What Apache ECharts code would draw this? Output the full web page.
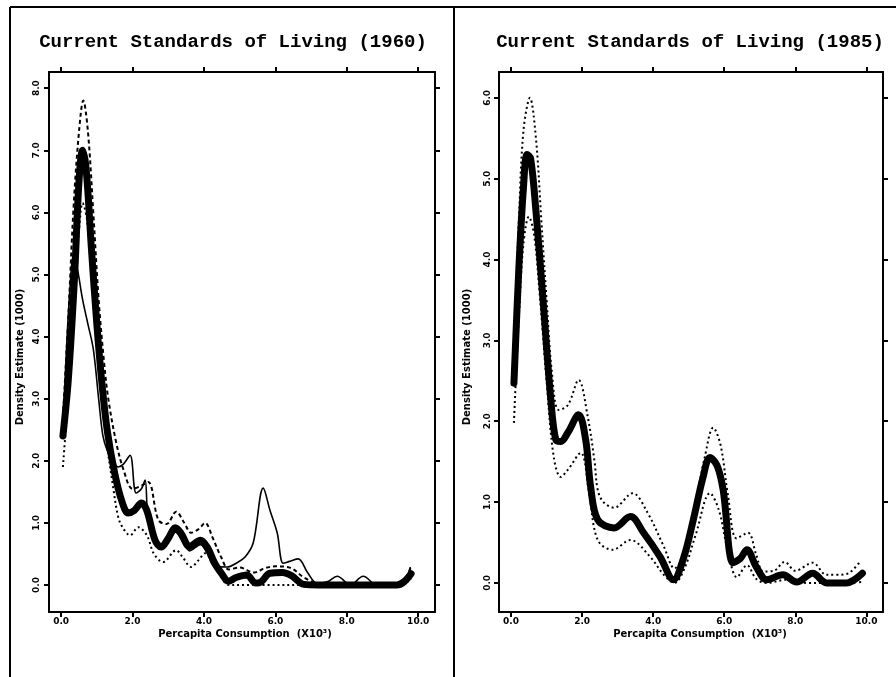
<!DOCTYPE html>
<html>
<head>
<meta charset="utf-8">
<script src="https://cdn.jsdelivr.net/npm/echarts@6/dist/echarts.min.js"></script>
<style>
html,body{margin:0;padding:0;background:#fff;}
#chart{width:896px;height:677px;}
</style>
</head>
<body>
<div id="chart"></div>
<script>
// ---------- data ----------
const titles = ['Current Standards of Living (1960)', 'Current Standards of Living (1985)'];
const xTickValues = [0, 2, 4, 6, 8, 10];
const yTicks1960 = [0, 1, 2, 3, 4, 5, 6, 7, 8];
const yTicks1985 = [0, 1, 2, 3, 4, 5, 6];
const xAxisTitle = 'Percapita Consumption  (X10³)';
const yAxisTitle = 'Density Estimate (1000)';

// 1960 panel
const main1960X = [0.05,0.2,0.37,0.5,0.6,0.7,0.85,1.0,1.15,1.3,1.5,1.7,1.88,2.05,2.25,2.4,2.63,2.8,3.0,3.2,3.35,3.6,3.9,4.1,4.3,4.5,4.68,4.9,5.2,5.45,5.6,5.85,6.2,6.45,6.8,7.2,8.0,9.0,9.4,9.6,9.8];
const main1960Y = [2.4,3.3,4.9,6.5,7.0,6.7,5.4,4.2,3.2,2.45,1.8,1.35,1.16,1.2,1.32,1.2,0.72,0.61,0.75,0.92,0.84,0.62,0.72,0.6,0.35,0.18,0.06,0.12,0.16,0.03,0.05,0.19,0.2,0.15,0.01,0,0,0,0,0.05,0.18];
const upper1960X = [0.05,0.2,0.35,0.5,0.62,0.75,0.9,1.05,1.2,1.32,1.54,1.75,2.0,2.25,2.44,2.72,2.95,3.22,3.45,3.64,3.85,4.03,4.25,4.48,4.7,5.0,5.4,5.7,6.0,6.4,6.8,7.1,7.5,8.5,9.5,9.8];
const upper1960Y = [2.7,4.3,6.1,7.3,7.8,7.3,6.0,4.6,3.6,3.0,2.3,1.85,1.55,1.6,1.66,1.05,0.98,1.18,1.0,0.84,0.9,1.0,0.75,0.45,0.25,0.28,0.2,0.27,0.3,0.28,0.12,0.04,0,0,0.02,0.3];
const lower1960X = [0.05,0.2,0.35,0.5,0.6,0.72,0.85,1.0,1.15,1.3,1.45,1.6,1.75,1.93,2.16,2.4,2.6,2.86,3.22,3.4,3.64,3.85,4.03,4.25,4.48,4.7,5.5,7.0,9.5,9.8];
const lower1960Y = [1.9,3.1,4.6,5.7,6.15,5.9,5.0,3.9,3.0,2.2,1.6,1.09,0.9,0.8,0.93,0.8,0.5,0.37,0.56,0.45,0.29,0.4,0.51,0.35,0.13,0,0,0,0,0.1];
const alt1960X = [0.05,0.15,0.25,0.34,0.45,0.6,0.75,0.9,1.05,1.17,1.3,1.45,1.6,1.75,1.93,2.1,2.25,2.35,2.44,2.6,2.8,3.0,3.2,3.4,3.6,3.9,4.1,4.3,4.65,4.9,5.15,5.38,5.66,5.85,6.05,6.22,6.4,6.64,6.9,7.17,7.45,7.73,8.1,8.46,8.85,9.5,9.78];
const alt1960Y = [2.5,3.8,4.8,5.3,5.1,4.6,4.2,3.8,3.0,2.4,2.15,2.0,1.9,1.95,2.09,1.48,1.55,1.69,1.0,0.75,0.58,0.7,0.85,0.7,0.55,0.65,0.5,0.3,0.29,0.35,0.45,0.68,1.56,1.2,0.84,0.35,0.38,0.42,0.2,0.03,0.05,0.14,0,0.14,0,0,0.29];

// 1985 panel
const main1985X = [0.08,0.22,0.35,0.45,0.55,0.7,0.9,1.12,1.26,1.4,1.6,1.9,2.1,2.24,2.44,2.9,3.36,3.73,4.2,4.57,4.85,5.13,5.4,5.6,5.8,5.97,6.25,6.45,6.64,6.9,7.2,7.65,8.04,8.49,8.88,9.44,9.89];
const main1985Y = [2.47,3.9,4.9,5.3,5.25,4.6,3.5,2.26,1.77,1.75,1.86,2.08,1.77,1.19,0.78,0.68,0.82,0.62,0.32,0.04,0.3,0.78,1.3,1.55,1.45,1.15,0.25,0.3,0.41,0.2,0.04,0.1,0.01,0.12,0,0,0.12];
const upper1985X = [0.08,0.22,0.35,0.53,0.7,0.85,1.0,1.15,1.34,1.6,1.9,2.16,2.35,2.44,2.6,2.9,3.42,3.84,4.3,4.6,4.9,5.2,5.45,5.69,5.9,6.1,6.35,6.67,6.9,7.1,7.4,7.7,8.0,8.49,8.88,9.2,9.5,9.8];
const upper1985Y = [2.9,4.5,5.6,6.0,5.5,4.5,3.5,2.6,2.14,2.2,2.51,2.05,1.5,1.15,1.0,0.93,1.11,0.87,0.45,0.18,0.4,1.0,1.55,1.92,1.7,1.1,0.55,0.62,0.35,0.14,0.15,0.26,0.15,0.25,0.1,0.1,0.12,0.25];
const lower1985X = [0.08,0.22,0.35,0.5,0.65,0.8,1.0,1.2,1.4,1.6,1.96,2.2,2.44,2.86,3.36,3.92,4.3,4.6,4.9,5.2,5.6,5.85,6.1,6.36,6.64,6.9,7.2,7.76,8.3,9.0,9.86];
const lower1985Y = [1.98,3.3,4.2,4.53,4.3,3.6,2.5,1.56,1.31,1.4,1.61,1.1,0.53,0.41,0.53,0.32,0.1,0,0.2,0.6,1.11,0.9,0.4,0.07,0.22,0.05,0,0.04,0,0,0.01];

// ---------- chart ----------
const pairs = (xs, ys) => xs.map((x, i) => [x, ys[i]]);
const chart = echarts.init(document.getElementById('chart'), null, {renderer: 'canvas'});

const labelFont = {fontFamily: 'DejaVu Sans', fontWeight: 'bold', fontSize: 9, color: '#000'};
const axisLineStyle = {color: '#000', width: 2};

function xAxes(gridIndex) {
  return [
    {
      type: 'value', gridIndex, position: 'bottom', min: -0.34, max: 10.47,
      axisLine: {show: true, onZero: false, lineStyle: axisLineStyle},
      axisTick: {show: true, inside: false, length: 5, lineStyle: {color: '#000', width: 2}, customValues: xTickValues},
      axisLabel: Object.assign({show: true, margin: 5, customValues: xTickValues, formatter: v => v.toFixed(1)}, labelFont),
      splitLine: {show: false}
    },
    {
      type: 'value', gridIndex, position: 'top', min: -0.34, max: 10.47,
      axisLine: {show: true, onZero: false, lineStyle: axisLineStyle},
      axisTick: {show: true, inside: false, length: 5, lineStyle: {color: '#000', width: 2}, customValues: xTickValues},
      axisLabel: {show: false},
      splitLine: {show: false}
    }
  ];
}
function yAxes(gridIndex, min, max, ticks, margin) {
  return [
    {
      type: 'value', gridIndex, position: 'left', min, max,
      axisLine: {show: true, onZero: false, lineStyle: axisLineStyle},
      axisTick: {show: true, inside: false, length: 5, lineStyle: {color: '#000', width: 2}, customValues: ticks},
      axisLabel: Object.assign({show: true, rotate: 90, margin, customValues: ticks, formatter: v => v.toFixed(1)}, labelFont),
      splitLine: {show: false}
    },
    {
      type: 'value', gridIndex, position: 'right', min, max,
      axisLine: {show: true, onZero: false, lineStyle: axisLineStyle},
      axisTick: {show: true, inside: false, length: 5, lineStyle: {color: '#000', width: 2}, customValues: ticks},
      axisLabel: {show: false},
      splitLine: {show: false}
    }
  ];
}

function lineSeries(name, data, xi, yi, style, z) {
  return {
    name, type: 'line', data, xAxisIndex: xi, yAxisIndex: yi,
    smooth: 0.35, showSymbol: false, symbol: 'none', silent: true, z,
    lineStyle: style
  };
}
const thick = {color: '#000', width: 7, type: 'solid', cap: 'round', join: 'round'};
const dotted = {color: '#000', width: 2, type: [2, 3]};
const dashed = {color: '#000', width: 2, type: [4, 3]};
const thin = {color: '#000', width: 1.6, type: 'solid'};

const option = {
  animation: false,
  backgroundColor: '#fff',
  grid: [
    {left: 49, top: 72, width: 386, height: 540, containLabel: false},
    {left: 499, top: 72, width: 384, height: 540, containLabel: false}
  ],
  xAxis: [...xAxes(0), ...xAxes(1)],
  yAxis: [...yAxes(0, -0.435, 8.26, yTicks1960, 8), ...yAxes(1, -0.36, 6.32, yTicks1985, 7)],
  series: [
    lineSeries('Estimate 1960', pairs(main1960X, main1960Y), 0, 0, thick, 3),
    lineSeries('Upper band 1960', pairs(upper1960X, upper1960Y), 0, 0, dashed, 4),
    lineSeries('Lower band 1960', pairs(lower1960X, lower1960Y), 0, 0, dotted, 4),
    lineSeries('Alternative 1960', pairs(alt1960X, alt1960Y), 0, 0, thin, 5),
    lineSeries('Estimate 1985', pairs(main1985X, main1985Y), 2, 2, thick, 3),
    lineSeries('Upper band 1985', pairs(upper1985X, upper1985Y), 2, 2, dotted, 4),
    lineSeries('Lower band 1985', pairs(lower1985X, lower1985Y), 2, 2, dotted, 4)
  ],
  graphic: [
    {type: 'line', shape: {x1: 10, y1: 7, x2: 896, y2: 7}, style: {stroke: '#000', lineWidth: 2}, silent: true},
    {type: 'line', shape: {x1: 10, y1: 7, x2: 10, y2: 677}, style: {stroke: '#000', lineWidth: 2}, silent: true},
    {type: 'line', shape: {x1: 454, y1: 7, x2: 454, y2: 677}, style: {stroke: '#000', lineWidth: 2}, silent: true},
    {type: 'text', x: 233, y: 42, silent: true,
      style: {text: titles[0], textAlign: 'center', textVerticalAlign: 'middle', font: 'bold 19px "Liberation Mono"', fill: '#000'}},
    {type: 'text', x: 690, y: 42, silent: true,
      style: {text: titles[1], textAlign: 'center', textVerticalAlign: 'middle', font: 'bold 19px "Liberation Mono"', fill: '#000'}},
    {type: 'text', x: 20, y: 357, rotation: Math.PI / 2, silent: true,
      style: {text: yAxisTitle, textAlign: 'center', textVerticalAlign: 'middle', font: 'bold 10px "DejaVu Sans"', fill: '#000'}},
    {type: 'text', x: 467, y: 357, rotation: Math.PI / 2, silent: true,
      style: {text: yAxisTitle, textAlign: 'center', textVerticalAlign: 'middle', font: 'bold 10px "DejaVu Sans"', fill: '#000'}},
    {type: 'text', x: 245, y: 634, silent: true,
      style: {text: xAxisTitle, textAlign: 'center', textVerticalAlign: 'middle', font: 'bold 10px "DejaVu Sans"', fill: '#000'}},
    {type: 'text', x: 700, y: 634, silent: true,
      style: {text: xAxisTitle, textAlign: 'center', textVerticalAlign: 'middle', font: 'bold 10px "DejaVu Sans"', fill: '#000'}}
  ]
};
chart.setOption(option);
</script>
</body>
</html>
